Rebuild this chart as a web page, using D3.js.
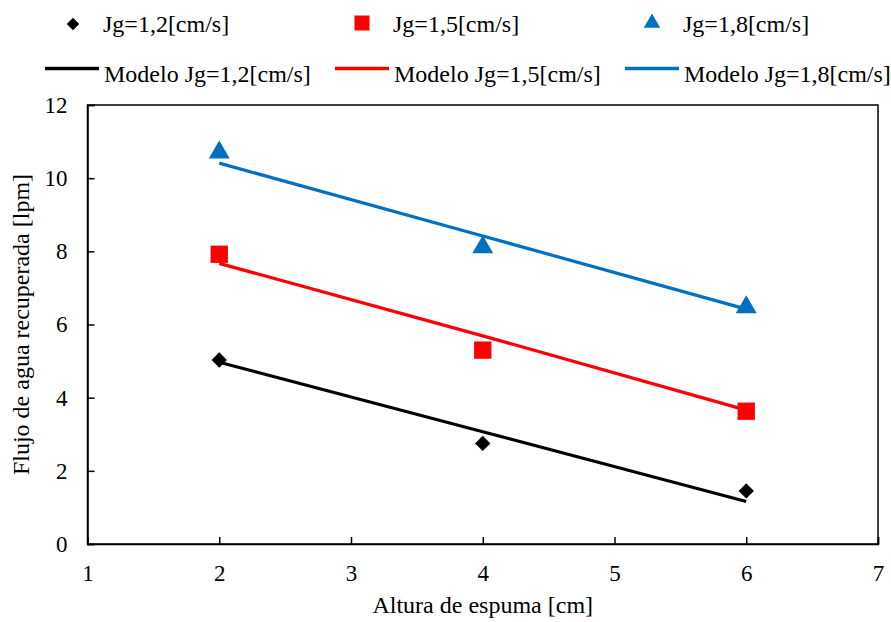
<!DOCTYPE html>
<html>
<head>
<meta charset="utf-8">
<script src="https://cdn.jsdelivr.net/npm/d3@7"></script>
<style>
  html, body { margin: 0; padding: 0; background: #fff; }
  text { font-family: "Liberation Serif", "Times New Roman", serif; fill: #000; }
</style>
</head>
<body>
<svg id="chart" width="891" height="622"></svg>
<script>
// Measured foam height [cm] vs recovered water flow [lpm]
const alturas = [2, 4, 6];
const exp12 = [5.03, 2.75, 1.45];
const exp15 = [7.92, 5.30, 3.63];
const exp18 = [10.70, 8.11, 6.47];

// Model predictions
const mod12 = [4.97, 3.07, 1.16];
const mod15 = [7.67, 5.69, 3.66];
const mod18 = [10.41, 8.42, 6.42];

const xTicks = [1, 2, 3, 4, 5, 6, 7];
const yTicks = [0, 2, 4, 6, 8, 10, 12];

const seriesNames = ["Jg=1,2[cm/s]", "Jg=1,5[cm/s]", "Jg=1,8[cm/s]"];
const modelNames = ["Modelo Jg=1,2[cm/s]", "Modelo Jg=1,5[cm/s]", "Modelo Jg=1,8[cm/s]"];
const colors = ["#000000", "#ff0000", "#0070c0"];

const FONT = '"Liberation Serif", "Times New Roman", serif';
const svg = d3.select("#chart");
const m = { left: 87.5, right: 878, top: 105, bottom: 544 };

const x = d3.scaleLinear().domain([1, 7]).range([m.left, m.right]);
const y = d3.scaleLinear().domain([0, 12]).range([m.bottom, m.top]);

// frame
svg.append("rect")
  .attr("x", m.left).attr("y", m.top)
  .attr("width", m.right - m.left).attr("height", m.bottom - m.top)
  .attr("fill", "none").attr("stroke", "#000").attr("stroke-width", 1.5);

// axes with inward ticks
const xAxis = svg.append("g")
  .attr("transform", `translate(0,${m.bottom})`)
  .call(d3.axisBottom(x).tickValues(xTicks).tickSize(-7).tickPadding(21).tickFormat(d3.format("d")));
const yAxis = svg.append("g")
  .attr("transform", `translate(${m.left},0)`)
  .call(d3.axisLeft(y).tickValues(yTicks).tickSize(-7).tickPadding(20).tickFormat(d3.format("d")));
[xAxis, yAxis].forEach(g => {
  g.select(".domain").attr("stroke", "#000").attr("stroke-width", 1.5);
  g.selectAll(".tick line").attr("stroke", "#000").attr("stroke-width", 1.5);
  g.selectAll(".tick text")
    .style("font-family", FONT)
    .style("font-size", "23px").attr("fill", "#000");
});

// axis titles
svg.append("text")
  .attr("x", (m.left + m.right) / 2).attr("y", 613)
  .attr("text-anchor", "middle").style("font-size", "24px")
  .text("Altura de espuma [cm]");
svg.append("text")
  .attr("transform", `translate(29,${(m.top + m.bottom) / 2}) rotate(-90)`)
  .attr("text-anchor", "middle").style("font-size", "24px")
  .text("Flujo de agua recuperada [lpm]");

// model lines
const line = d3.line().x(d => x(d[0])).y(d => y(d[1]));
[mod12, mod15, mod18].forEach((vals, i) => {
  svg.append("path")
    .datum(alturas.map((a, j) => [a, vals[j]]))
    .attr("d", line)
    .attr("fill", "none").attr("stroke", colors[i]).attr("stroke-width", 3.2);
});

// markers
const symbolTypes = [d3.symbolDiamond2, d3.symbolSquare, d3.symbolTriangle];
const plotSizes = [150, 300, 190];
[exp12, exp15, exp18].forEach((vals, i) => {
  svg.append("g").selectAll("path")
    .data(alturas.map((a, j) => [a, vals[j]]))
    .join("path")
    .attr("transform", d => `translate(${x(d[0])},${y(d[1])})`)
    .attr("d", d3.symbol().type(symbolTypes[i]).size(plotSizes[i])())
    .attr("fill", colors[i]);
});

// legend: markers (top row) and model lines (bottom row)
const legSymX = [73, 362, 652];
const legSymY = [24, 23, 23];
const legSizes = [100, 225, 115];
const legTextX = [103, 393, 683];
seriesNames.forEach((name, i) => {
  svg.append("path")
    .attr("transform", `translate(${legSymX[i]},${legSymY[i]})`)
    .attr("d", d3.symbol().type(symbolTypes[i]).size(legSizes[i])())
    .attr("fill", colors[i]);
  svg.append("text")
    .attr("x", legTextX[i]).attr("y", 32)
    .style("font-size", "24px").text(name);
});
const legLineX = [45, 335, 625];
modelNames.forEach((name, i) => {
  svg.append("line")
    .attr("x1", legLineX[i]).attr("x2", legLineX[i] + 54)
    .attr("y1", 68.5).attr("y2", 68.5)
    .attr("stroke", colors[i]).attr("stroke-width", 3.5);
  svg.append("text")
    .attr("x", legLineX[i] + 59).attr("y", 82)
    .style("font-size", "24px").text(name);
});
</script>
</body>
</html>
